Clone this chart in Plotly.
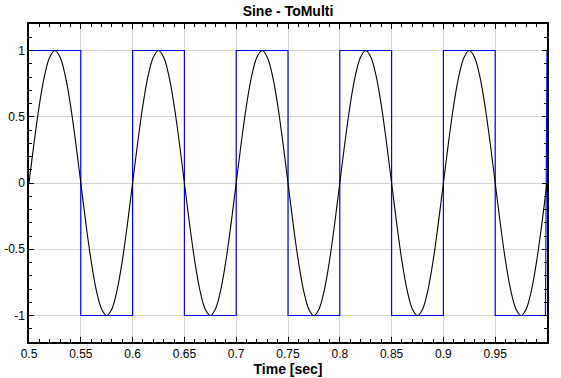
import numpy as np
import plotly.graph_objects as go

# ---- data ----
# sine output sampled every 0.005 s from 0.5 s to 1.0 s
sine_values = [
    0.0, 0.31, 0.59, 0.81, 0.95, 1.0, 0.95, 0.81, 0.59, 0.31,
    0.0, -0.31, -0.59, -0.81, -0.95, -1.0, -0.95, -0.81, -0.59, -0.31,
    0.0, 0.31, 0.59, 0.81, 0.95, 1.0, 0.95, 0.81, 0.59, 0.31,
    0.0, -0.31, -0.59, -0.81, -0.95, -1.0, -0.95, -0.81, -0.59, -0.31,
    0.0, 0.31, 0.59, 0.81, 0.95, 1.0, 0.95, 0.81, 0.59, 0.31,
    0.0, -0.31, -0.59, -0.81, -0.95, -1.0, -0.95, -0.81, -0.59, -0.31,
    0.0, 0.31, 0.59, 0.81, 0.95, 1.0, 0.95, 0.81, 0.59, 0.31,
    0.0, -0.31, -0.59, -0.81, -0.95, -1.0, -0.95, -0.81, -0.59, -0.31,
    0.0, 0.31, 0.59, 0.81, 0.95, 1.0, 0.95, 0.81, 0.59, 0.31,
    0.0, -0.31, -0.59, -0.81, -0.95, -1.0, -0.95, -0.81, -0.59, -0.31,
    0.0,
]
sine_time = np.linspace(0.5, 1.0, len(sine_values))

# square (multi-level) output: vertices of the step trace
square_time = [0.5, 0.55, 0.55, 0.6, 0.6, 0.65, 0.65, 0.7, 0.7, 0.75, 0.75,
               0.8, 0.8, 0.85, 0.85, 0.9, 0.9, 0.95, 0.95, 0.9985, 1.0]
square_values = [1, 1, -1, -1, 1, 1, -1, -1, 1, 1, -1,
                 -1, 1, 1, -1, -1, 1, 1, -1, -1, 1]

x_tick_vals = [0.5, 0.55, 0.6, 0.65, 0.7, 0.75, 0.8, 0.85, 0.9, 0.95]
x_tick_text = ["0.5", "0.55", "0.6", "0.65", "0.7", "0.75", "0.8", "0.85", "0.9", "0.95"]
y_tick_vals = [-1, -0.5, 0, 0.5, 1]
y_tick_text = ["-1", "-0.5", "0", "0.5", "1"]

FONT = "Liberation Sans, Arial, sans-serif"

fig = go.Figure()
fig.add_trace(go.Scatter(x=square_time, y=square_values, mode="lines",
                         line=dict(color="#0000ff", width=1.2), hoverinfo="skip"))
fig.add_trace(go.Scatter(x=sine_time, y=sine_values, mode="lines",
                         line=dict(color="#000000", width=1.1, shape="spline", smoothing=1.0),
                         hoverinfo="skip"))

fig.update_layout(
    width=561, height=378,
    margin=dict(l=29, r=14, t=24, b=36, autoexpand=False),
    paper_bgcolor="white", plot_bgcolor="white",
    showlegend=False,
    font=dict(family=FONT, size=12, color="#000000"),
    title=dict(text="<b>Sine - ToMulti</b>", x=(29 + 547) / 2 / 561, xanchor="center",
               y=1 - 11 / 378, yanchor="middle", font=dict(family=FONT, size=14)),
)
fig.update_xaxes(
    automargin=False,
    range=[0.5, 1.0], tickvals=x_tick_vals, ticktext=x_tick_text,
    showgrid=True, gridcolor="#d3d3d3", gridwidth=1,
    showline=True, linecolor="#000000", linewidth=1.5, mirror="ticks",
    ticks="inside", ticklen=5, tickcolor="#000000",
    minor=dict(dtick=0.01, tick0=0.5, ticks="inside", ticklen=3, tickcolor="#000000", showgrid=False),
    zeroline=False,
    title=dict(text="<b>Time [sec]</b>", font=dict(family=FONT, size=14), standoff=2),
    tickfont=dict(family=FONT, size=12),
)
fig.update_yaxes(
    automargin=False,
    range=[-1.2, 1.2], tickvals=y_tick_vals, ticktext=y_tick_text,
    showgrid=True, gridcolor="#d3d3d3", gridwidth=1,
    showline=True, linecolor="#000000", linewidth=1.5, mirror="ticks",
    ticks="inside", ticklen=5, tickcolor="#000000",
    minor=dict(dtick=0.1, tick0=0, ticks="inside", ticklen=3, tickcolor="#000000", showgrid=False),
    zeroline=False,
    tickfont=dict(family=FONT, size=12),
)

fig.write_html("out.html", config={"displayModeBar": False},
               post_script="document.body.style.margin='0';")
